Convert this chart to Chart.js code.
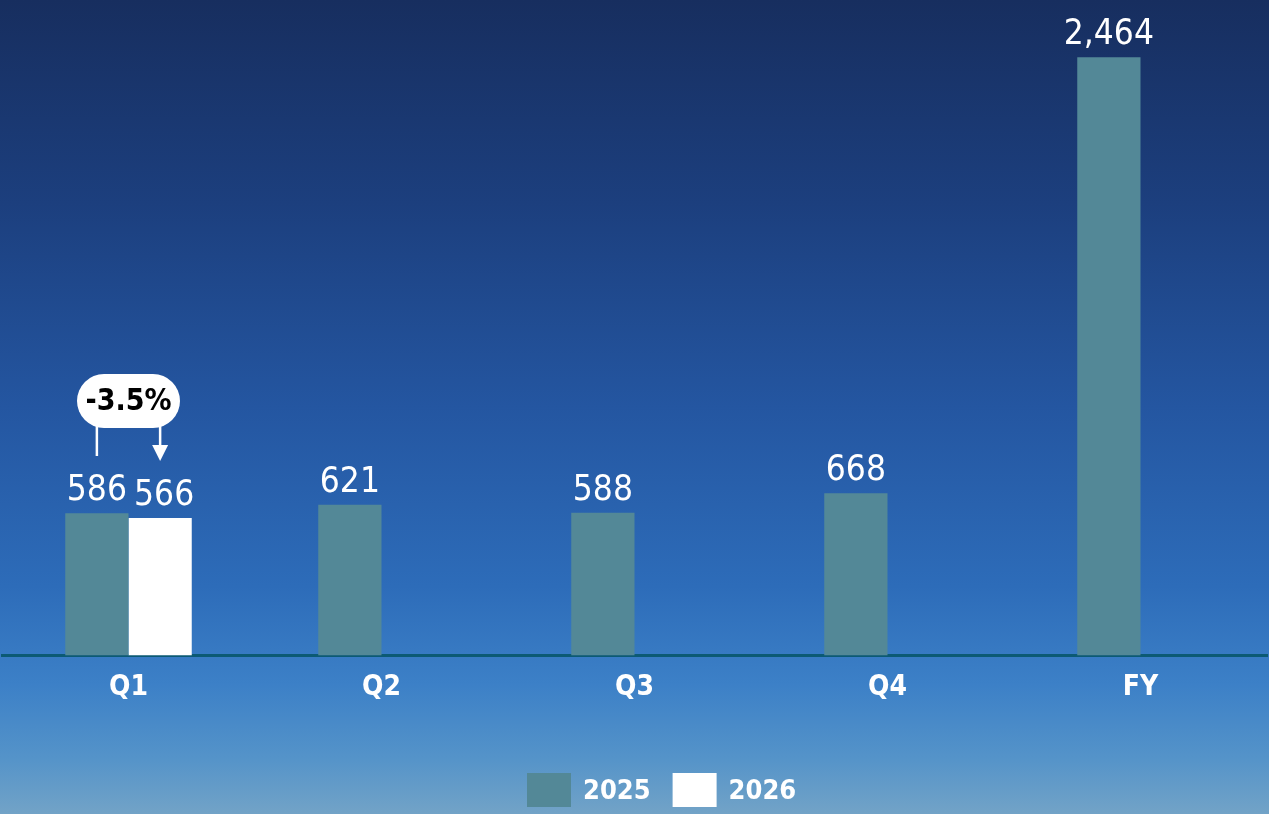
<!DOCTYPE html>
<html>
<head>
<meta charset="utf-8">
<script src="https://cdn.jsdelivr.net/npm/chart.js@4.4.1/dist/chart.umd.min.js"></script>
<style>
  html, body { margin: 0; padding: 0; }
  body {
    width: 1269px; height: 814px; overflow: hidden;
    background: linear-gradient(to bottom, #172e5f 0%, #1c3f7e 25%, #2456a1 50%, #2d6cb9 72%, #3c80c7 84%, #5493c9 93%, #72a3c7 100%);
  }
  #wrap { position: relative; width: 1269px; height: 814px; }
</style>
</head>
<body>
<div id="wrap"><canvas id="c" width="1269" height="814"></canvas></div>
<script>
const categories = ['Q1', 'Q2', 'Q3', 'Q4', 'FY'];
const values2025 = [586, 621, 588, 668, 2464];
const values2026 = [566, null, null, null, null];
const seriesNames = ['2025', '2026'];
const changeLabel = '-3.5%';

const FONT = "'DejaVu Sans Condensed', 'DejaVu Sans', sans-serif";
const C2025 = '#538897';
const C2026 = '#ffffff';

const overlay = {
  id: 'overlay',
  afterDatasetsDraw(chart) {
    const ctx = chart.ctx;
    ctx.save();
    // value labels
    ctx.fillStyle = '#ffffff';
    ctx.font = '35px ' + FONT;
    ctx.textAlign = 'center';
    ctx.textBaseline = 'alphabetic';
    chart.data.datasets.forEach((ds, di) => {
      const meta = chart.getDatasetMeta(di);
      meta.data.forEach((bar, i) => {
        const v = ds.data[i];
        if (v == null) return;
        const dx = di === 1 ? 4 : 0;
        ctx.fillText(v.toLocaleString('en-US'), bar.x + dx, bar.y - 13);
      });
    });

    // annotation pill + arrows (Q1 change)
    const b1 = chart.getDatasetMeta(0).data[0];
    const b2 = chart.getDatasetMeta(1).data[0];
    const cx = chart.scales.x.getPixelForValue(0);
    const pillW = 103, pillH = 54, pillTop = 374;
    ctx.fillStyle = '#ffffff';
    ctx.beginPath();
    ctx.roundRect(cx - pillW / 2, pillTop, pillW, pillH, pillH / 2);
    ctx.fill();
    ctx.fillStyle = '#000000';
    ctx.font = 'bold 30px ' + FONT;
    ctx.textBaseline = 'middle';
    ctx.fillText(changeLabel, cx, pillTop + pillH / 2 + 1);

    ctx.strokeStyle = '#ffffff';
    ctx.lineWidth = 2.5;
    ctx.beginPath();
    ctx.moveTo(b1.x, pillTop + pillH - 2);
    ctx.lineTo(b1.x, 456);
    ctx.moveTo(b2.x, pillTop + pillH - 2);
    ctx.lineTo(b2.x, 447);
    ctx.stroke();
    ctx.fillStyle = '#ffffff';
    ctx.beginPath();
    ctx.moveTo(b2.x - 8, 445);
    ctx.lineTo(b2.x + 8, 445);
    ctx.lineTo(b2.x, 461);
    ctx.closePath();
    ctx.fill();

    // legend
    const items = chart.data.datasets.map(d => ({ label: d.label, color: d.backgroundColor }));
    ctx.font = 'bold 27px ' + FONT;
    ctx.textAlign = 'left';
    ctx.textBaseline = 'middle';
    const boxW = 44, boxH = 34, gapText = 12, gapItem = 22;
    let x = 527;
    const yTop = 773;
    items.forEach(it => {
      ctx.fillStyle = it.color;
      ctx.fillRect(x, yTop, boxW, boxH);
      x += boxW + gapText;
      ctx.fillStyle = '#ffffff';
      ctx.fillText(it.label, x, yTop + boxH / 2 + 2);
      x += ctx.measureText(it.label).width + gapItem;
    });
    ctx.restore();
  }
};

new Chart(document.getElementById('c'), {
  type: 'bar',
  data: {
    labels: categories,
    datasets: [
      { label: seriesNames[0], data: values2025, backgroundColor: C2025 },
      { label: seriesNames[1], data: values2026, backgroundColor: C2026 }
    ]
  },
  options: {
    responsive: false,
    animation: false,
    devicePixelRatio: 1,
    layout: { padding: { top: 0, left: 2, right: 2, bottom: 93 } },
    datasets: { bar: { categoryPercentage: 0.5, barPercentage: 1.0, borderWidth: 0 } },
    plugins: { legend: { display: false }, tooltip: { enabled: false } },
    scales: {
      x: {
        grid: { display: false, drawTicks: false },
        border: { display: true, color: '#0c5a74', width: 3 },
        ticks: { color: '#ffffff', font: { family: FONT, size: 28, weight: 'bold' }, padding: 16 }
      },
      y: {
        display: false,
        min: 0,
        max: 2700
      }
    }
  },
  plugins: [overlay]
});
</script>
</body>
</html>
